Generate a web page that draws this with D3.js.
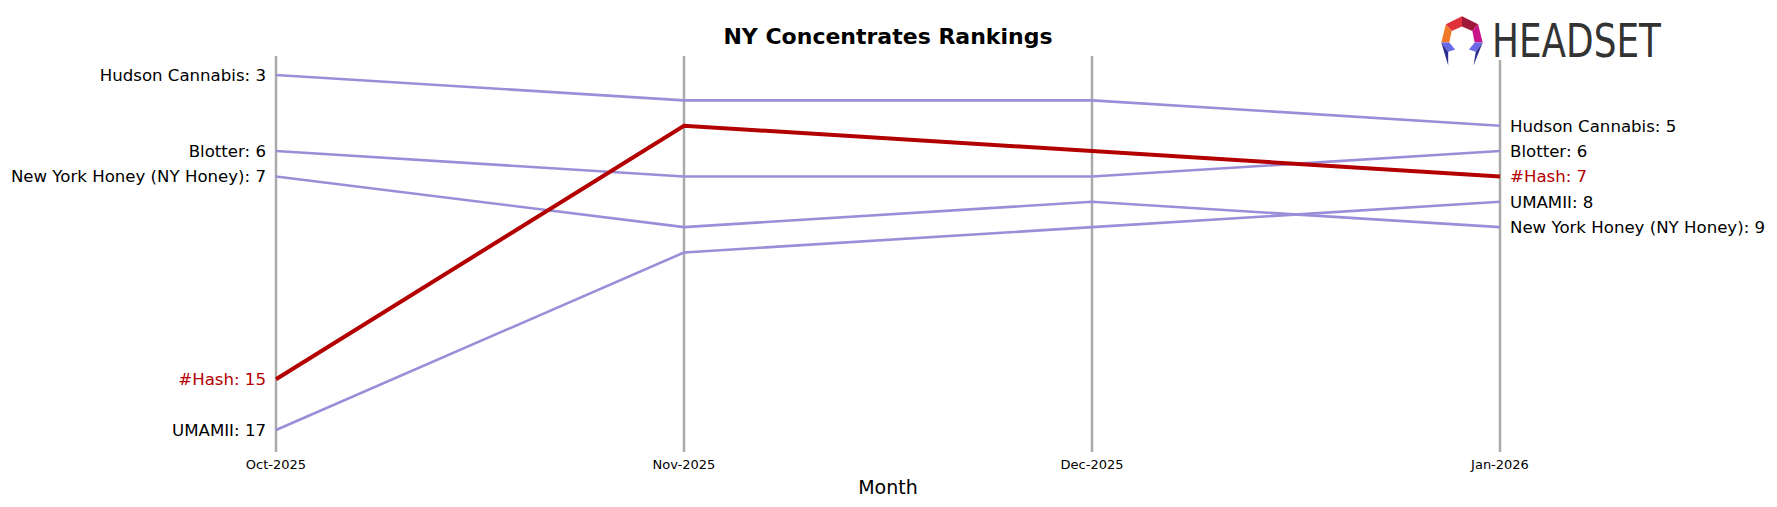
<!DOCTYPE html>
<html><head><meta charset="utf-8">
<script src="https://cdn.jsdelivr.net/npm/d3@7"></script>
<style>body{margin:0;background:#fff}text{font-family:"DejaVu Sans",sans-serif}</style>
</head><body><svg id="c" width="1777" height="507"></svg>
<script>
const months = ["Oct-2025", "Nov-2025", "Dec-2025", "Jan-2026"];
const brands = ["Hudson Cannabis", "Blotter", "New York Honey (NY Honey)", "UMAMII", "#Hash"];
const ranks = [
  [3, 4, 4, 5],
  [6, 7, 7, 6],
  [7, 9, 8, 9],
  [17, 10, 9, 8],
  [15, 5, 6, 7]
];
const highlight = "#Hash";

const svg = d3.select("#c");
const x = d3.scalePoint().domain(months).range([276, 1500]);
const y = d3.scaleLinear().domain([3, 17]).range([75, 430]);

// vertical month lines
svg.selectAll("line.v").data(months).enter().append("line")
  .attr("x1", d => x(d)).attr("x2", d => x(d))
  .attr("y1", (d, i) => i == 3 ? 60 : 56).attr("y2", 452)
  .attr("stroke", "#aaa").attr("stroke-width", 2.5);

// tick labels
svg.selectAll("text.t").data(months).enter().append("text")
  .attr("x", d => x(d)).attr("y", 469).attr("text-anchor", "middle")
  .attr("font-size", 13).text(d => d);
svg.append("text").attr("x", 888).attr("y", 494).attr("text-anchor", "middle")
  .attr("font-size", 19).text("Month");
svg.append("text").attr("x", 888).attr("y", 44).attr("text-anchor", "middle")
  .attr("font-size", 22).attr("font-weight", "bold").text("NY Concentrates Rankings");

const line = d3.line().x((d, i) => x(months[i])).y(d => y(d));
const order = brands.map((b, i) => i).sort((a, b) => (brands[a] == highlight) - (brands[b] == highlight));
order.forEach(i => {
  const hi = brands[i] == highlight;
  svg.append("path").datum(ranks[i]).attr("d", line).attr("fill", "none")
    .attr("stroke", hi ? "#b30000" : "#9b8ed8").attr("stroke-width", hi ? 4 : 2.6);
  svg.append("text").attr("x", x(months[0]) - 10).attr("y", y(ranks[i][0])).attr("dy", "0.35em")
    .attr("text-anchor", "end").attr("font-size", 16.6).attr("fill", hi ? "#b30000" : "#000")
    .text(brands[i] + ": " + ranks[i][0]);
  svg.append("text").attr("x", x(months[3]) + 10).attr("y", y(ranks[i][3])).attr("dy", "0.35em")
    .attr("font-size", 16.6).attr("fill", hi ? "#b30000" : "#000")
    .text(brands[i] + ": " + ranks[i][3]);
});

// logo
const lg = svg.append("g").attr("transform", "translate(1439,15)");
const ic = lg.append("g").attr("transform", "scale(1.15)");
const polys = [
  ["#e0303a", [[6,8],[20,1],[20,10],[11,14]]],
  ["#a01838", [[20,1],[34,8],[29,14],[20,10]]],
  ["#c8158a", [[34,8],[38,24],[31,24],[29,14]]],
  ["#f07a28", [[6,8],[11,14],[9,24],[2,24]]],
  ["#6a6ae8", [[2,24],[9,24],[14,30],[8,32]]],
  ["#2b2f8f", [[2,24],[8,32],[8,44]]],
  ["#6a6ae8", [[31,24],[38,24],[32,32],[26,30]]],
  ["#2b2f8f", [[38,24],[32,32],[30,44]]]
];
polys.forEach(p => ic.append("polygon").attr("points", p[1].map(q => q.join(",")).join(" ")).attr("fill", p[0]));
lg.append("text").attr("x", 53).attr("y", 42).attr("font-size", 47)
  .attr("font-family", "Liberation Sans Narrow, DejaVu Sans Condensed, sans-serif")
  .attr("textLength", 169).attr("lengthAdjust", "spacingAndGlyphs")
  .attr("fill", "#333").text("HEADSET");
</script></body></html>
